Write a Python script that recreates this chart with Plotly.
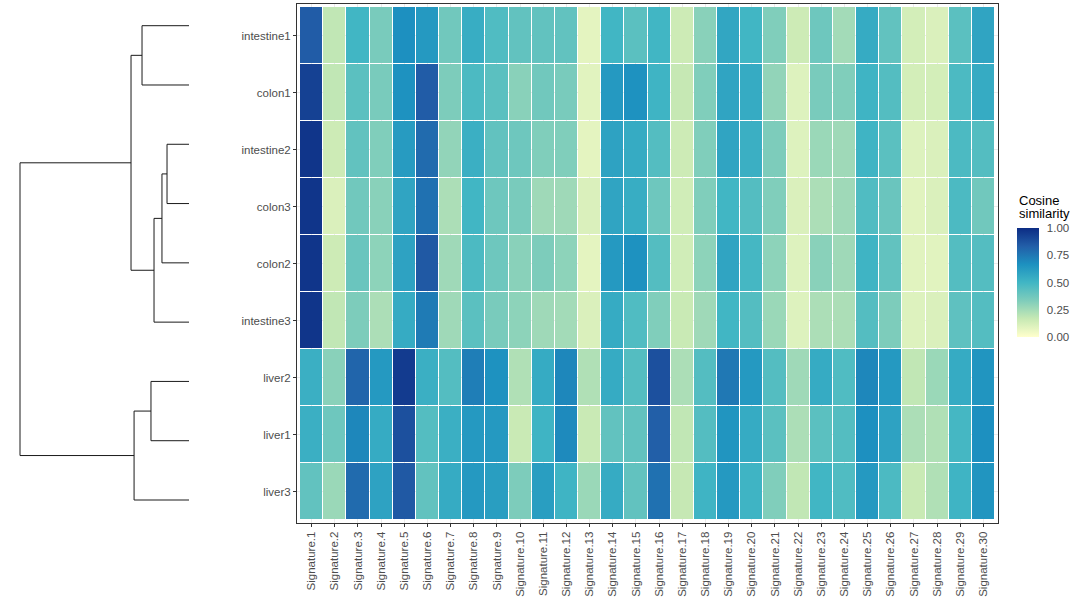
import plotly.graph_objects as go

# ---------------- data ----------------
samples = ["intestine1", "colon1", "intestine2", "colon3", "colon2",
           "intestine3", "liver2", "liver1", "liver3"]
signatures = [f"Signature.{i}" for i in range(1, 31)]

intestine1 = [0.84,0.18,0.50,0.35,0.67,0.63,0.37,0.54,0.46,0.41,0.41,0.41,0.08,0.50,0.43,0.50,0.15,0.31,0.57,0.50,0.33,0.15,0.38,0.25,0.55,0.41,0.13,0.11,0.43,0.58]
colon1     = [0.93,0.18,0.43,0.35,0.66,0.84,0.34,0.47,0.43,0.31,0.37,0.35,0.09,0.63,0.66,0.51,0.17,0.33,0.58,0.55,0.29,0.10,0.35,0.33,0.51,0.45,0.13,0.13,0.47,0.55]
intestine2 = [0.97,0.15,0.41,0.33,0.62,0.79,0.29,0.53,0.41,0.38,0.33,0.33,0.08,0.59,0.55,0.45,0.15,0.33,0.58,0.53,0.34,0.10,0.27,0.26,0.51,0.43,0.10,0.11,0.47,0.45]
colon3     = [0.97,0.11,0.37,0.31,0.58,0.77,0.23,0.50,0.38,0.35,0.26,0.26,0.11,0.58,0.54,0.38,0.14,0.33,0.50,0.45,0.33,0.11,0.23,0.26,0.46,0.39,0.09,0.11,0.47,0.37]
colon2     = [0.97,0.15,0.39,0.30,0.59,0.85,0.26,0.47,0.38,0.31,0.34,0.30,0.08,0.63,0.66,0.45,0.14,0.30,0.58,0.49,0.30,0.10,0.31,0.26,0.51,0.41,0.09,0.09,0.45,0.45]
intestine3 = [0.97,0.18,0.34,0.23,0.55,0.74,0.26,0.43,0.35,0.30,0.26,0.25,0.11,0.55,0.46,0.33,0.16,0.26,0.50,0.45,0.27,0.10,0.23,0.23,0.45,0.34,0.10,0.11,0.42,0.45]
liver2     = [0.53,0.31,0.81,0.63,0.95,0.53,0.45,0.73,0.66,0.22,0.55,0.70,0.22,0.55,0.45,0.88,0.23,0.45,0.75,0.63,0.45,0.26,0.55,0.46,0.70,0.63,0.18,0.27,0.55,0.65]
liver1     = [0.53,0.38,0.70,0.55,0.88,0.45,0.53,0.63,0.63,0.16,0.51,0.69,0.16,0.41,0.41,0.83,0.18,0.45,0.65,0.55,0.43,0.23,0.43,0.45,0.67,0.59,0.23,0.22,0.49,0.67]
liver3     = [0.41,0.27,0.79,0.59,0.85,0.41,0.55,0.63,0.61,0.34,0.61,0.51,0.27,0.55,0.41,0.77,0.17,0.51,0.63,0.51,0.33,0.18,0.50,0.46,0.63,0.47,0.16,0.22,0.51,0.65]

Z = [intestine1, colon1, intestine2, colon3, colon2, intestine3, liver2, liver1, liver3]

# colour-bar ticks
cb_ticks = [0, 0.25, 0.5, 0.75, 1.0]
cb_labels = ["0.00", "0.25", "0.50", "0.75", "1.00"]

# dendrogram merges: (child_a, child_b, height, new node name)
merges = [
    ("intestine1", "colon1", 0.278, "A"),
    ("intestine2", "colon3", 0.130, "B"),
    ("B", "colon2", 0.160, "C"),
    ("C", "intestine3", 0.207, "D"),
    ("A", "D", 0.343, "E"),
    ("liver2", "liver1", 0.225, "F"),
    ("F", "liver3", 0.325, "G"),
    ("E", "G", 1.000, "root"),
]

# ---------------- figure ----------------
W, H = 1080, 605
ylgnbu7 = ["#FFFFCC", "#C7E9B4", "#7FCDBB", "#41B6C4",
           "#1D91C0", "#225EA8", "#0C2C84"]
colorscale = [[i / 6, c] for i, c in enumerate(ylgnbu7)]

# colour bar geometry (pixels)
CB_X0, CB_TH = 1017, 22
CB_TOP, CB_BOT = 228, 337

fig = go.Figure()
fig.add_trace(go.Heatmap(
    z=Z, x=list(range(len(signatures))), y=list(range(len(samples))),
    colorscale=colorscale, zmin=0, zmax=1, xgap=1, ygap=1,
    xaxis="x", yaxis="y",
    colorbar=dict(
        tickvals=cb_ticks, ticktext=cb_labels,
        ticks="outside", ticklen=6, tickcolor="rgba(255,255,255,0)",
        tickfont=dict(size=11.5, color="#4d4d4d"),
        thickness=CB_TH, thicknessmode="pixels",
        lenmode="pixels", len=CB_BOT - CB_TOP,
        x=CB_X0 / W, xanchor="left", xpad=0,
        y=1 - CB_TOP / H, yanchor="top", ypad=0,
        outlinewidth=0,
    ),
))

# dendrogram geometry from merges
ypos = {s: i + 1 for i, s in enumerate(samples)}
hgt = {s: 0.0 for s in samples}
dx, dy = [], []
for a, b, h, name in merges:
    for c in (a, b):
        dx += [hgt[c], h, None]
        dy += [ypos[c], ypos[c], None]
    dx += [h, h, None]
    dy += [ypos[a], ypos[b], None]
    ypos[name] = (ypos[a] + ypos[b]) / 2
    hgt[name] = h

fig.add_trace(go.Scatter(x=dx, y=dy, mode="lines",
                         line=dict(color="#1a1a1a", width=1),
                         xaxis="x2", yaxis="y2", hoverinfo="skip",
                         showlegend=False))

# white tick marks on both edges of the colour bar (ggplot style)
shapes = []
for v in cb_ticks:
    yp = 1 - (CB_BOT - v * (CB_BOT - CB_TOP)) / H
    for xa, xb in ((CB_X0, CB_X0 + 4), (CB_X0 + CB_TH - 4, CB_X0 + CB_TH)):
        shapes.append(dict(type="line", xref="paper", yref="paper",
                           x0=xa / W, x1=xb / W, y0=yp, y1=yp,
                           line=dict(color="white", width=1)))

annotations = [
    dict(text="Cosine", x=CB_X0 / W, y=1 - 200 / H, xref="paper", yref="paper",
         xanchor="left", yanchor="middle", showarrow=False,
         font=dict(size=13, color="#000000")),
    dict(text="similarity", x=CB_X0 / W, y=1 - 213.5 / H, xref="paper", yref="paper",
         xanchor="left", yanchor="middle", showarrow=False,
         font=dict(size=13, color="#000000")),
]

colw = 695 / 30
rowh = 513 / 9
fig.update_layout(
    width=W, height=H,
    margin=dict(l=0, r=0, t=0, b=0),
    paper_bgcolor="white", plot_bgcolor="white",
    font=dict(family="Liberation Sans, Arial, sans-serif"),
    showlegend=False,
    shapes=shapes, annotations=annotations,
    xaxis=dict(
        domain=[297 / W, 998 / W], anchor="y",
        range=[-0.5 - 3 / colw, 29.5 + 3 / colw],
        tickvals=list(range(len(signatures))), ticktext=signatures,
        tickangle=-90, ticks="outside", ticklen=3, tickcolor="#333333",
        tickfont=dict(size=11.5, color="#4d4d4d"),
        showline=True, mirror=True, linecolor="#333333", linewidth=1,
        showgrid=True, gridcolor="#ebebeb", zeroline=False,
    ),
    yaxis=dict(
        domain=[1 - 523 / H, 1 - 4 / H], anchor="x",
        range=[8.5 + 3 / rowh, -0.5 - 3 / rowh],
        tickvals=list(range(len(samples))), ticktext=samples,
        ticks="outside", ticklen=3, tickcolor="#333333",
        tickfont=dict(size=11.5, color="#4d4d4d"),
        showline=True, mirror=True, linecolor="#333333", linewidth=1,
        showgrid=True, gridcolor="#ebebeb", zeroline=False,
    ),
    xaxis2=dict(domain=[10 / W, 199 / W], anchor="y2",
                range=[1 + 10 / 169, -10 / 169], visible=False),
    yaxis2=dict(domain=[1 - 511 / H, 1 - 15 / H], anchor="x2",
                range=[9 + 11 / 59.3, 1 - 10.7 / 59.3], visible=False),
)

fig.write_html("out.html",
               config={"displayModeBar": False},
               post_script="document.body.style.margin='0';"
                           "document.body.style.overflow='hidden';")
